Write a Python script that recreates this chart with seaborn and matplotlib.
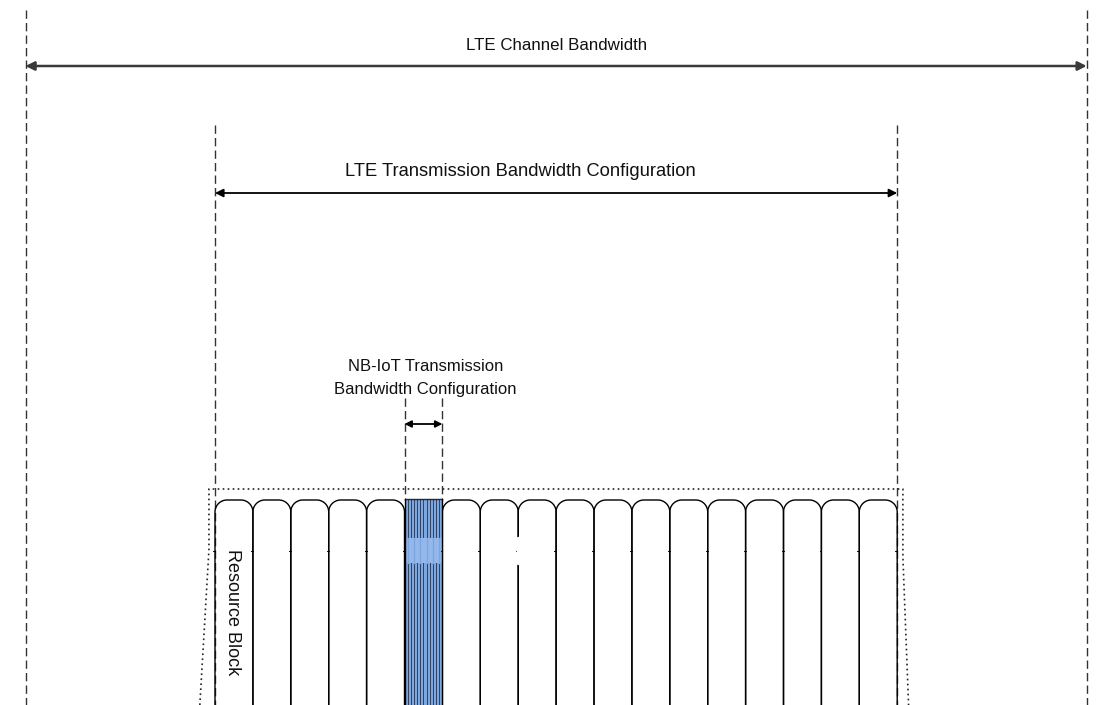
import numpy as np
import seaborn as sns
import matplotlib.pyplot as plt
from matplotlib.patches import Rectangle

# Diagram values (frequency axis in resource-block units)
n_rb = 18                      # resource blocks in the LTE transmission bandwidth
nb_iot_rb = 5                  # index of the RB used for NB-IoT
n_subcarriers = 12             # subcarriers in one RB
channel_edges = [-5, 23]       # LTE channel bandwidth edges (RB units)
transmission_edges = [0, 18]   # LTE transmission bandwidth configuration edges
gap_boundary = 8               # boundary drawn with a small white gap
labels = ["LTE Channel Bandwidth",
          "LTE Transmission Bandwidth Configuration",
          "NB-IoT Transmission\nBandwidth Configuration",
          "Resource Block"]

sns.set_style("white")
plt.rcParams['font.family'] = ['Liberation Sans', 'DejaVu Sans']

fig = plt.figure(figsize=(10.97, 7.05), dpi=100)
ax = fig.add_axes([0, 0, 1, 1])
px_per_rb = 37.9
x0_px = 215
ax.set_xlim(-x0_px / px_per_rb, (1097 - x0_px) / px_per_rb)
ax.set_ylim(705, 0)
ax.axis('off')

dash = dict(color='#333333', lw=1.0, linestyle=(0, (6, 3)))
bottom = 705


def arrow(xa, xb, y, color, lw, ms):
    ax.annotate('', xy=(xb, y), xytext=(xa, y),
                arrowprops=dict(arrowstyle='<|-|>', color=color, lw=lw,
                                mutation_scale=ms, shrinkA=0, shrinkB=0))


# outer channel bandwidth
for xe in channel_edges:
    ax.plot([xe, xe], [10, bottom], **dash)
arrow(channel_edges[0], channel_edges[1], 66, '#3a3a3a', 1.8, 13)
ax.text(sum(channel_edges) / 2, 45, labels[0], ha='center', va='center',
        fontsize=12.2, color='#111111')

# transmission bandwidth
for xe in transmission_edges:
    ax.plot([xe, xe], [125, bottom], **dash)
arrow(transmission_edges[0], transmission_edges[1], 193, 'black', 1.3, 12)
ax.text(sum(transmission_edges) / 2 - 0.95, 172, labels[1], ha='center',
        va='center', fontsize=13.2, color='#111111')

# NB-IoT bandwidth
nb_l, nb_r = nb_iot_rb, nb_iot_rb + 1
for xe in (nb_l, nb_r):
    ax.plot([xe, xe], [398, 500], **dash)
arrow(nb_l, nb_r, 424, 'black', 1.3, 10)
ax.text(nb_l + 0.55, 378, labels[2], ha='center', va='center',
        fontsize=12, color='#111111', linespacing=1.7)

# dotted outline around the RB grid
outline_x = [-0.4, -0.16, -0.16, 18.15, 18.15, 18.3]
outline_y = [bottom, 550, 489, 489, 557, bottom]
ax.plot(outline_x, outline_y, color='#222222', lw=1.2, linestyle=(0, (1, 2)))

# resource blocks with rounded tops
top = 500
rx = 12 / px_per_rb
ry = 12
t = np.linspace(0, np.pi / 2, 30)
for i in range(n_rb):
    if i == nb_iot_rb:
        continue
    lx = i + rx * (1 - np.cos(t))
    ly = top + ry * (1 - np.sin(t))
    rxs = (i + 1 - rx * (1 - np.cos(t)))[::-1]
    rys = ly[::-1]
    xs = np.concatenate([[i], lx, rxs, [i + 1]])
    ys = np.concatenate([[bottom], ly, rys, [bottom]])
    ax.plot(xs, ys, color='black', lw=1.0, solid_joinstyle='round')

# NB-IoT resource block with subcarriers
ax.add_patch(Rectangle((nb_l, 499), 1, bottom - 499, facecolor='#7EA6DF',
                       edgecolor='none', zorder=3))
for k in range(n_subcarriers + 1):
    xs = nb_l + k / n_subcarriers
    ax.plot([xs, xs], [499, bottom], color='#26324c', lw=0.6, zorder=4)
ax.add_patch(Rectangle((nb_l, 538), 1, 25, facecolor='#94B8EC',
                       edgecolor='none', zorder=5))
for k in range(1, n_subcarriers, 2):
    xs = nb_l + k / n_subcarriers
    ax.plot([xs, xs], [538, 563], color='#7EA6DF', lw=1.0, zorder=6)
ax.plot([nb_l, nb_r], [499, 499], color='#202838', lw=1.0, zorder=6)
for xe in (nb_l, nb_r):
    ax.plot([xe, xe], [499, bottom], color='black', lw=1.0, zorder=6)

# small ticks and the gap on one boundary
for b in range(n_rb + 1):
    ax.plot([b - 0.05, b], [551, 551], color='black', lw=0.8, zorder=7)
ax.plot([gap_boundary, gap_boundary], [538, 563], color='white', lw=2.5, zorder=8)

ax.text(0.47, 612, labels[3], rotation=270, ha='center', va='center',
        fontsize=13, color='#111111')

fig.savefig('out.png', dpi=100)
